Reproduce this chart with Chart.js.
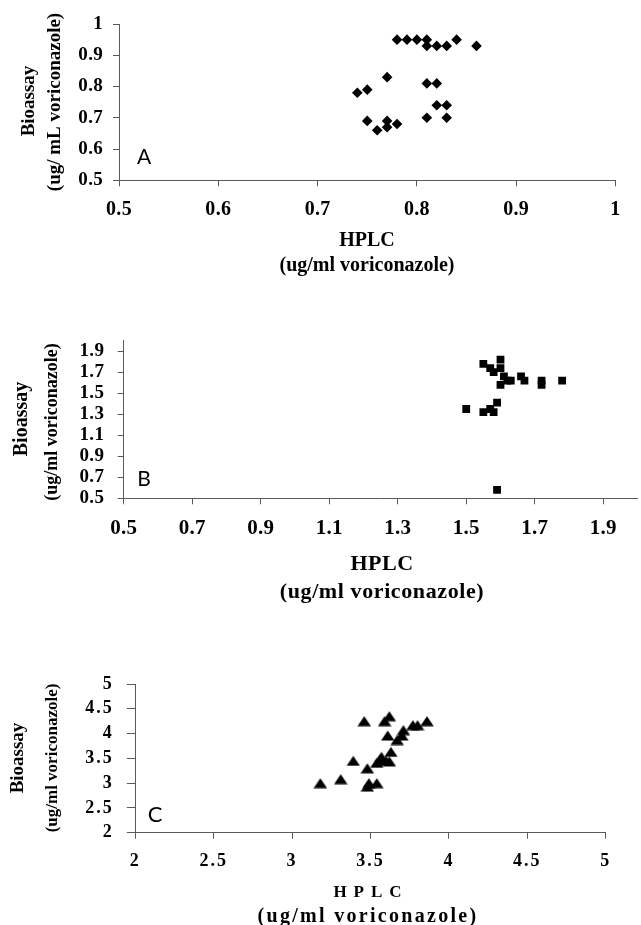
<!DOCTYPE html>
<html><head><meta charset="utf-8">
<script src="https://cdn.jsdelivr.net/npm/chart.js@4"></script>
<style>
html,body{margin:0;padding:0;background:#fff;overflow:hidden;width:641px;height:925px;position:relative;}
canvas{position:absolute;left:0;}
</style></head><body>
<canvas id="cA" width="641" height="290" style="top:0px"></canvas>
<canvas id="cB" width="643" height="300" style="top:310px"></canvas>
<canvas id="cC" width="641" height="285" style="top:640px"></canvas>
<script>
// ---- Data ----
const aHPLC = [0.78,0.79,0.80,0.81,0.84,0.81,0.82,0.83,0.86,0.77,0.81,0.82,0.74,0.75,0.82,0.83,0.81,0.83,0.75,0.77,0.77,0.78,0.76];
const aBio  = [0.95,0.95,0.95,0.95,0.95,0.93,0.93,0.93,0.93,0.83,0.81,0.81,0.78,0.79,0.74,0.74,0.70,0.70,0.69,0.69,0.67,0.68,0.66];

const bHPLC = [1.50,1.55,1.60,1.57,1.58,1.60,1.61,1.60,1.63,1.62,1.66,1.67,1.72,1.72,1.78,1.59,1.55,1.58,1.57,1.59];
const bBio  = [1.35,1.78,1.82,1.74,1.70,1.74,1.66,1.58,1.62,1.62,1.66,1.62,1.62,1.58,1.62,1.41,1.32,1.32,1.35,0.58];

const cHPLC = [3.18,3.31,3.39,3.46,3.59,3.62,3.61,3.67,3.70,3.71,3.77,3.80,3.86,3.63,3.57,3.60,3.54,3.48,3.49,3.54,3.48,3.62,3.56];
const cBio  = [3.00,3.08,3.45,4.25,4.25,4.35,3.96,3.87,3.96,4.07,4.17,4.17,4.25,3.63,3.53,3.45,3.41,3.30,3.00,3.00,2.93,3.44,3.47];

const aXTicks = [0.5,0.6,0.7,0.8,0.9,1];
const aYTicks = [0.5,0.6,0.7,0.8,0.9,1];
const bXTicks = [0.5,0.7,0.9,1.1,1.3,1.5,1.7,1.9];
const bYTicks = [0.5,0.7,0.9,1.1,1.3,1.5,1.7,1.9];
const cXTicks = [2,2.5,3,3.5,4,4.5,5];
const cYTicks = [2,2.5,3,3.5,4,4.5,5];

const xTitle = ['HPLC', '(ug/ml voriconazole)'];
const aYTitle = ['Bioassay', '(ug/ mL voriconazole)'];
const bYTitle = ['Bioassay', '(ug/ml voriconazole)'];
const cYTitle = ['Bioassay', '(ug/ml voriconazole)'];

// ---- Helpers ----
function pts(xs, ys) { return xs.map((x, i) => ({x: x, y: ys[i]})); }
const SERIF = '"Liberation Serif", "Times New Roman", serif';
const SANS = 'Lato, "Open Sans", sans-serif';
const AXC = '#5a5a5a';

const panelTexts = {
  cA: { tickSpacing: 0.3, items: [
    {text: aYTitle[0], x: 29, y: 101, rotate: true, font: 'bold 19px ' + SERIF},
    {text: aYTitle[1], x: 55, y: 102, rotate: true, font: 'bold 19px ' + SERIF},
    {text: xTitle[0], x: 367, y: 241, font: 'bold 20px ' + SERIF},
    {text: xTitle[1], x: 367, y: 266, font: 'bold 20px ' + SERIF},
    {text: 'A', x: 144, y: 157, font: '21px ' + SANS}
  ]},
  cB: { tickSpacing: 0.3, items: [
    {text: bYTitle[0], x: 22, y: 109, rotate: true, font: 'bold 20px ' + SERIF},
    {text: bYTitle[1], x: 52, y: 112, rotate: true, font: 'bold 18px ' + SERIF},
    {text: xTitle[0], x: 382, y: 254, font: 'bold 22px ' + SERIF, spacing: 0.5},
    {text: xTitle[1], x: 382, y: 282, font: 'bold 22px ' + SERIF, spacing: 0.6},
    {text: 'B', x: 144, y: 169, font: '21px ' + SANS}
  ]},
  cC: { tickSpacing: 2, items: [
    {text: cYTitle[0], x: 18, y: 118, rotate: true, font: 'bold 19px ' + SERIF},
    {text: cYTitle[1], x: 53, y: 118, rotate: true, font: 'bold 17px ' + SERIF},
    {text: xTitle[0], x: 371, y: 253, font: 'bold 17px ' + SERIF, spacing: 7},
    {text: xTitle[1], x: 368, y: 277, font: 'bold 20px ' + SERIF, spacing: 2.3},
    {text: 'C', x: 155, y: 175, font: '22px ' + SANS}
  ]}
};

const textPlugin = {
  id: 'panelText',
  beforeDraw(chart) {
    const cfg = panelTexts[chart.canvas.id];
    chart.ctx.letterSpacing = (cfg.tickSpacing || 0) + 'px';
  },
  afterDraw(chart) {
    const ctx = chart.ctx;
    const cfg = panelTexts[chart.canvas.id];
    ctx.letterSpacing = '0px';
    cfg.items.forEach(it => {
      ctx.save();
      ctx.letterSpacing = (it.spacing || 0) + 'px';
      ctx.font = it.font;
      ctx.fillStyle = '#000';
      ctx.textAlign = 'center';
      ctx.textBaseline = 'middle';
      ctx.translate(it.x, it.y);
      if (it.rotate) ctx.rotate(-Math.PI / 2);
      ctx.fillText(it.text, 0, 0);
      ctx.restore();
    });
  }
};

function axis(tickVals, min, max, fontSize, tickLen, pad, fixedSize, isX) {
  return {
    type: 'linear', min: min, max: max,
    afterBuildTicks: s => { s.ticks = tickVals.map(v => ({value: v})); },
    afterFit: s => { if (isX) s.height = fixedSize; else s.width = fixedSize; },
    ticks: {
      autoSkip: false, maxRotation: 0, minRotation: 0, padding: pad, color: '#000',
      font: {family: SERIF, size: fontSize, weight: 'bold'},
      callback: v => String(v)
    },
    grid: {drawOnChartArea: false, drawTicks: true, tickLength: tickLen, color: AXC, lineWidth: 1},
    border: {display: true, color: AXC, width: 1}
  };
}

function makeChart(id, data, pointOpts, xAxis, yAxis, padding) {
  return new Chart(document.getElementById(id), {
    type: 'scatter',
    data: {datasets: [Object.assign({data: data, backgroundColor: '#000', borderColor: '#000', borderWidth: 0, showLine: false}, pointOpts)]},
    options: {
      responsive: false, animation: false, devicePixelRatio: 1,
      layout: {padding: padding},
      plugins: {legend: {display: false}, tooltip: {enabled: false}, title: {display: false}},
      scales: {x: xAxis, y: yAxis}
    },
    plugins: [textPlugin]
  });
}

// triangle marker for panel C
const tri = document.createElement('canvas');
tri.width = 14; tri.height = 11;
(function () {
  const t = tri.getContext('2d');
  t.beginPath(); t.moveTo(7, 0.5); t.lineTo(13.7, 10.5); t.lineTo(0.3, 10.5); t.closePath();
  t.fillStyle = '#000'; t.fill();
})();

// Panel A
makeChart('cA', pts(aHPLC, aBio), {pointStyle: 'rectRot', pointRadius: 5.3},
  axis(aXTicks, 0.5, 1, 20, 6, 11.5, 290 - 180.3, true),
  axis(aYTicks, 0.5, 1, 19, 6, 10, 119, false),
  {left: 0, top: 24, right: 641 - 615.5, bottom: 0});

// Panel B
makeChart('cB', pts(bHPLC, bBio), {pointStyle: 'rect', pointRadius: 5.5},
  axis(bXTicks, 0.5, 2.0, 21, 6, 12, 300 - 188.3, true),
  axis(bYTicks, 0.5, 2.0, 19, 6, 13.5, 123.7, false),
  {left: 0, top: 30.7, right: 1, bottom: 0});

// Panel C
makeChart('cC', pts(cHPLC, cBio), {pointStyle: tri, pointRadius: 6},
  axis(cXTicks, 2, 5, 18, 6, 12, 285 - 192.7, true),
  axis(cYTicks, 2, 5, 18, 8.5, 13, 135.3, false),
  {left: 0, top: 44, right: 641 - 605.7, bottom: 0});
</script>
</body></html>
